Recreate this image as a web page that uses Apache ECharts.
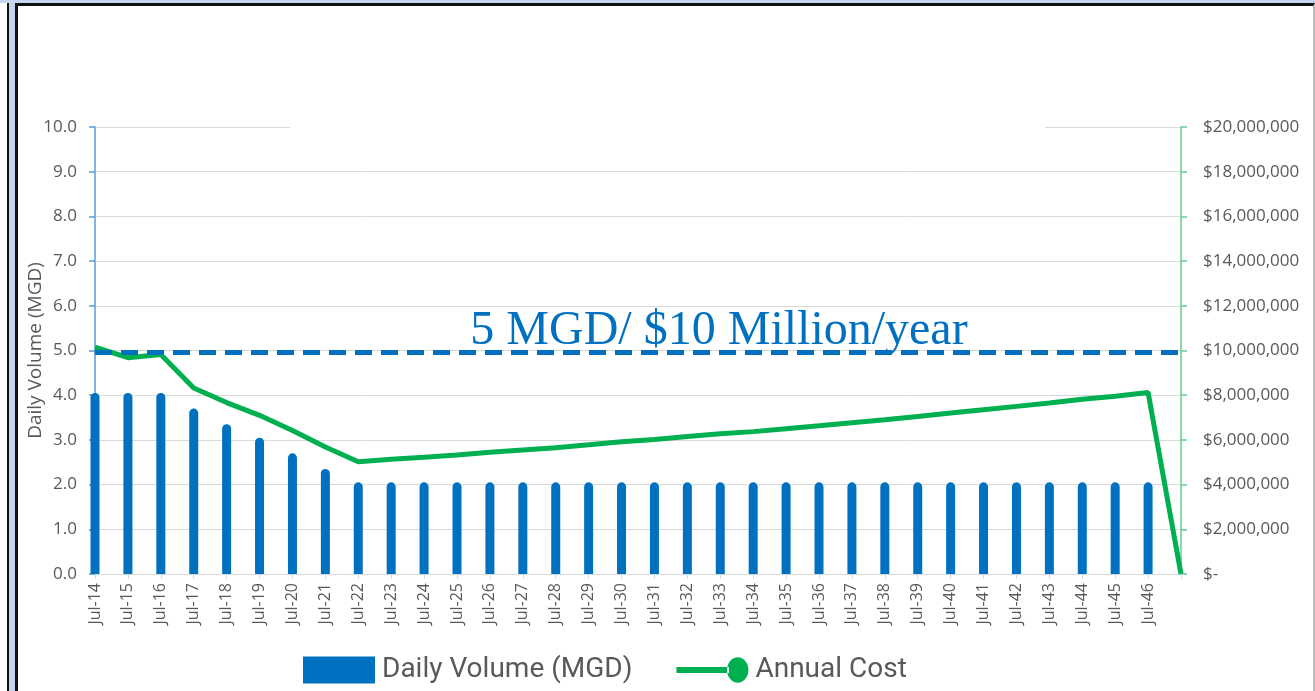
<!DOCTYPE html>
<html>
<head>
<meta charset="utf-8">
<script src="https://cdn.jsdelivr.net/npm/echarts@6/dist/echarts.min.js"></script>
<style>
  html, body { margin: 0; padding: 0; width: 1315px; height: 691px; overflow: hidden; background: #c6d4ee; }
  /* slide frame around the chart */
  .side { position: absolute; left: 0; top: 3px; width: 7px; height: 688px; background: #fff; border-right: 2px solid #111; }
  .panel { position: absolute; left: 15px; top: 3px; width: 1295px; height: 685px; background: #fff;
           border-left: 3px solid #111; border-top: 3px solid #111; border-right: 2px solid #bbb; }
  #chart { position: absolute; left: 0; top: 0; width: 1315px; height: 691px; }
</style>
</head>
<body>
<div class="side"></div>
<div class="panel"></div>
<div id="chart"></div>
<script>
// categories (last one is blank, where the cost drops to zero)
const years = ['Jul-14', 'Jul-15', 'Jul-16', 'Jul-17', 'Jul-18', 'Jul-19', 'Jul-20', 'Jul-21',
  'Jul-22', 'Jul-23', 'Jul-24', 'Jul-25', 'Jul-26', 'Jul-27', 'Jul-28', 'Jul-29', 'Jul-30',
  'Jul-31', 'Jul-32', 'Jul-33', 'Jul-34', 'Jul-35', 'Jul-36', 'Jul-37', 'Jul-38', 'Jul-39',
  'Jul-40', 'Jul-41', 'Jul-42', 'Jul-43', 'Jul-44', 'Jul-45', 'Jul-46', '']

// daily volume, MGD
const dailyVolume = [4.05, 4.05, 4.05, 3.7, 3.35, 3.05, 2.7, 2.35,
  2.05, 2.05, 2.05, 2.05, 2.05, 2.05, 2.05, 2.05, 2.05,
  2.05, 2.05, 2.05, 2.05, 2.05, 2.05, 2.05, 2.05, 2.05,
  2.05, 2.05, 2.05, 2.05, 2.05, 2.05, 2.05, null]

// annual cost, $
const annualCost = [10150000, 9680000, 9820000, 8320000, 7670000, 7100000, 6420000, 5680000,
  5020000, 5130000, 5220000, 5320000, 5450000, 5550000, 5650000, 5780000, 5920000,
  6020000, 6150000, 6270000, 6370000, 6500000, 6630000, 6770000, 6900000, 7050000,
  7200000, 7350000, 7500000, 7650000, 7820000, 7950000, 8120000, 0]

const limitMGD = 4.95
const limitText = '5 MGD/ $10 Million/year'

const blue = '#0070c0'
const green = '#00b050'
const gray = '#595959'
const gridGray = '#d9d9d9'
const tickFont = '"Open Sans", "Liberation Sans", sans-serif'

const myChart = echarts.init(document.getElementById('chart'))

const option = {
  animation: false,
  backgroundColor: 'transparent',
  grid: { left: 95, right: 134, top: 127, bottom: 117 },
  legend: {
    left: 298,
    top: 651,
    itemWidth: 72,
    itemHeight: 27,
    itemGap: 44,
    textStyle: { color: gray, fontSize: 28, fontFamily: 'Roboto, "Open Sans", sans-serif', padding: [0, 0, 0, 2] },
    data: [
      { name: 'Daily Volume (MGD)', icon: 'rect' },
      // line with an end marker, like the spreadsheet legend
      { name: 'Annual Cost', icon: 'path://M0,10 L54,10 L54,16 L0,16 Z M52,13 A11,13,0,1,0,74,13 A11,13,0,1,0,52,13 Z' },
    ],
  },
  xAxis: {
    type: 'category',
    data: years,
    boundaryGap: false,
    axisLine: { lineStyle: { color: gridGray, width: 1 } },
    axisTick: { show: true, length: 5, lineStyle: { color: gridGray } },
    axisLabel: { rotate: 90, interval: 0, margin: 9, color: gray, fontSize: 16, fontFamily: tickFont },
    splitLine: { show: false },
  },
  yAxis: [
    {
      type: 'value',
      min: 0,
      max: 10,
      interval: 1,
      name: 'Daily Volume (MGD)',
      nameLocation: 'middle',
      nameGap: 50,
      nameMoveOverlap: false, // the name sits over the tick label column, as in the original
      nameTextStyle: { color: gray, fontSize: 19, fontFamily: tickFont },
      axisLine: { show: true, lineStyle: { color: '#5b9bd5', width: 1.5 } },
      axisTick: { show: true, length: 6, lineStyle: { color: '#5b9bd5', width: 1.5 } },
      axisLabel: { color: gray, fontSize: 17, fontFamily: tickFont, margin: 18, formatter: (v) => v.toFixed(1) },
      splitLine: { lineStyle: { color: gridGray, width: 1 } },
    },
    {
      type: 'value',
      min: 0,
      max: 20000000,
      interval: 2000000,
      position: 'right',
      axisLine: { show: true, lineStyle: { color: '#5fcf8c', width: 1.5 } },
      axisTick: { show: true, length: 6, lineStyle: { color: '#5fcf8c', width: 1.5 } },
      axisLabel: {
        color: gray, fontSize: 17, fontFamily: tickFont, margin: 22,
        formatter: (v) => (v === 0 ? '$-' : '$' + v.toLocaleString('en-US')),
      },
      splitLine: { show: false },
    },
  ],
  series: [
    {
      name: 'Daily Volume (MGD)',
      type: 'bar',
      data: dailyVolume,
      barWidth: 9,
      itemStyle: { color: blue, borderRadius: [5, 5, 0, 0] },
      markLine: {
        silent: true,
        symbol: 'none',
        label: { show: false },
        lineStyle: { color: blue, width: 5, type: [17, 9] },
        data: [[{ xAxis: 0, yAxis: limitMGD }, { xAxis: years.length - 1, yAxis: limitMGD }]],
      },
    },
    {
      name: 'Annual Cost',
      type: 'line',
      yAxisIndex: 1,
      data: annualCost,
      symbol: 'circle',
      showSymbol: false,
      itemStyle: { color: green },
      lineStyle: { color: green, width: 5 },
      z: 3,
    },
  ],
  graphic: [
    // white box of the (empty) title covers part of the top gridline
    { type: 'rect', left: 290, top: 124, shape: { width: 755, height: 6 }, style: { fill: '#fff' }, z: 100 },
    {
      type: 'text',
      x: 719,
      y: 331,
      z: 100,
      style: {
        text: limitText,
        fill: blue,
        font: '48px "Liberation Serif", "Times New Roman", serif',
        textAlign: 'center',
        textVerticalAlign: 'middle',
      },
    },
  ],
}

myChart.setOption(option)
</script>
</body>
</html>
